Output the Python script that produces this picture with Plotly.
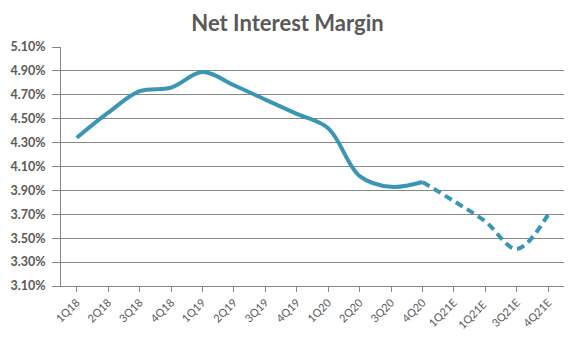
import plotly.graph_objects as go

quarters = ["1Q18", "2Q18", "3Q18", "4Q18", "1Q19", "2Q19", "3Q19", "4Q19",
            "1Q20", "2Q20", "3Q20", "4Q20", "1Q21E", "1Q21E ", "3Q21E", "4Q21E"]
actual_nim = [4.34, 4.55, 4.73, 4.76, 4.89, 4.78, 4.66, 4.54,
              4.42, 4.02, 3.93, 3.97]
estimate_nim = [3.97, 3.81, 3.64, 3.41, 3.70]
estimate_idx = [11, 12, 13, 14, 15]

color = "rgb(59,150,182)"
x_all = list(range(len(quarters)))

fig = go.Figure()
fig.add_trace(go.Scatter(x=x_all[:len(actual_nim)], y=actual_nim, mode="lines",
                         line=dict(color=color, width=4, shape="spline", smoothing=1.0),
                         showlegend=False, hoverinfo="skip"))
fig.add_trace(go.Scatter(x=estimate_idx, y=estimate_nim, mode="lines",
                         line=dict(color=color, width=4, shape="spline", smoothing=1.0, dash="8px,5px"),
                         showlegend=False, hoverinfo="skip"))

fig.update_layout(
    width=575, height=342,
    margin=dict(l=59, r=11, t=47, b=55),
    paper_bgcolor="white", plot_bgcolor="white",
    title=dict(text="<b>Net Interest Margin</b>", x=0.5, xanchor="center", y=0.955, yanchor="top",
               font=dict(family="Lato, Open Sans, sans-serif", size=22, color="#595959")),
    font=dict(family="Lato, Open Sans, sans-serif", color="#595959"),
)
fig.update_xaxes(
    tickmode="array", tickvals=x_all, ticktext=quarters,
    range=[-0.5, len(quarters) - 0.5],
    tickangle=-45, tickfont=dict(size=11, color="#595959"),
    showline=True, linecolor="#878787", linewidth=1,
    ticks="outside", ticklen=5, tickcolor="#878787",
    showgrid=False, zeroline=False,
)
fig.update_yaxes(
    range=[3.10, 5.10], dtick=0.2, tick0=3.10,
    tickformat=".2f", ticksuffix="%",
    tickfont=dict(size=12.5, color="#595959", family="Lato, Open Sans, sans-serif", weight="bold"),
    showline=True, linecolor="#878787", linewidth=1,
    ticks="outside", ticklen=8, tickcolor="#878787", ticklabelstandoff=4,
    showgrid=True, gridcolor="#878787", gridwidth=1,
    zeroline=False,
)
fig.write_html("out.html")
